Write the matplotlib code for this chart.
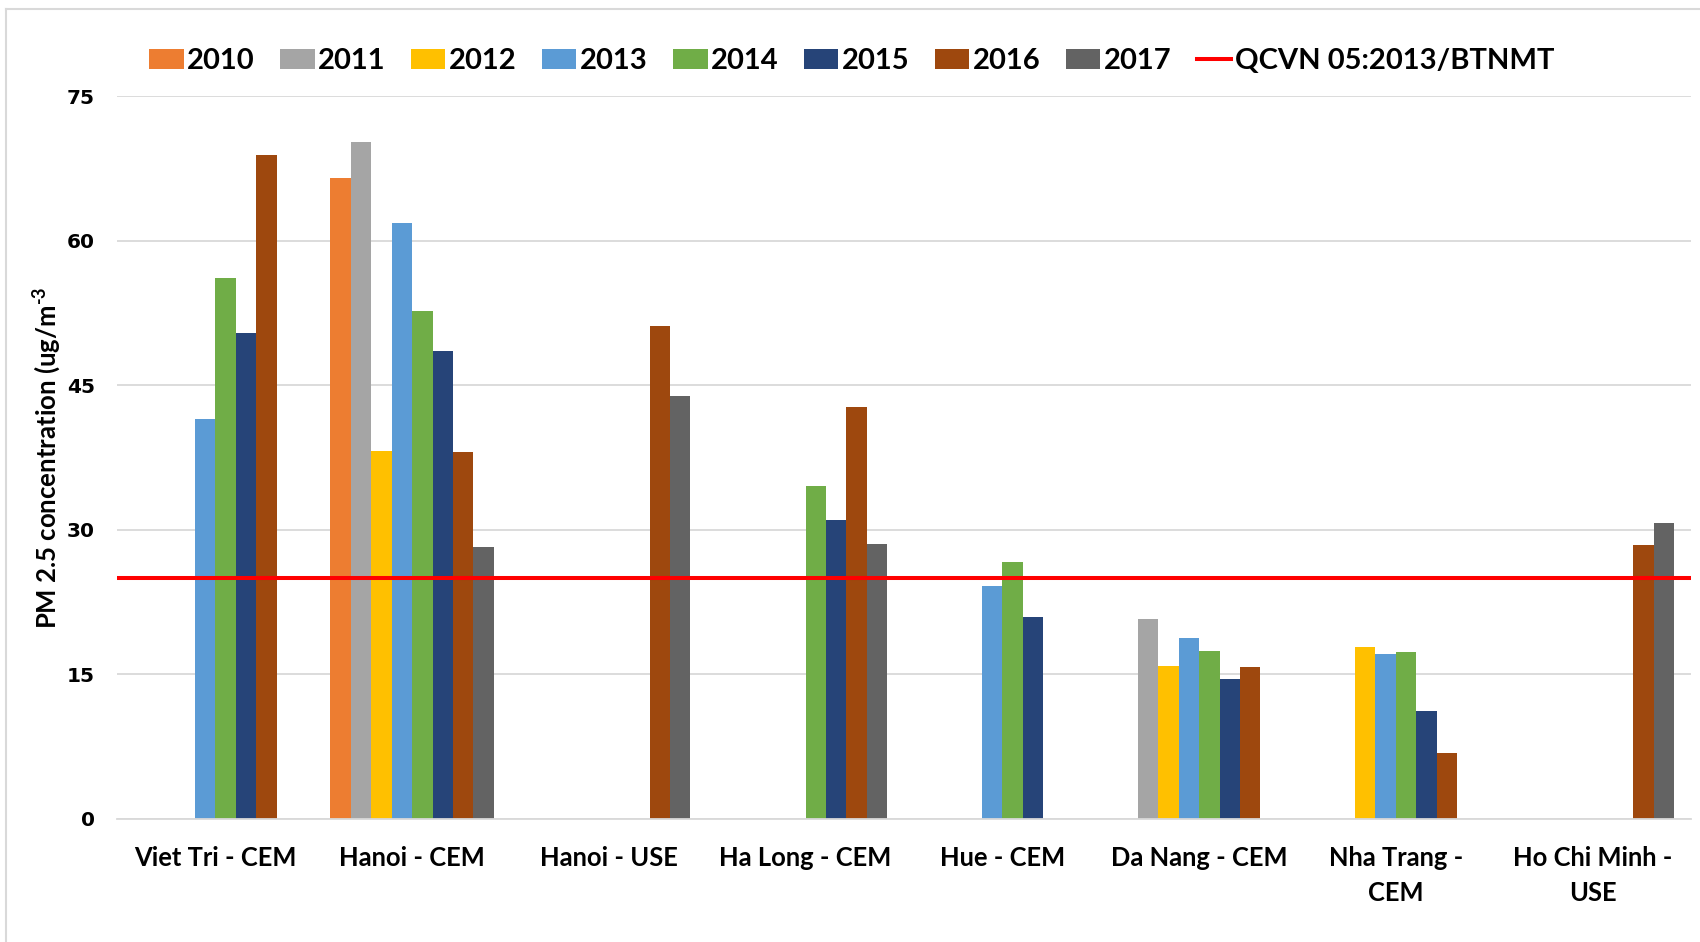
import numpy as np
import matplotlib
matplotlib.use("Agg")
import matplotlib.pyplot as plt
from matplotlib.lines import Line2D

# PM2.5 annual means by station (nan = no measurement that year)
stations = ["Viet Tri - CEM", "Hanoi - CEM", "Hanoi - USE", "Ha Long - CEM",
            "Hue - CEM", "Da Nang - CEM", "Nha Trang -\nCEM", "Ho Chi Minh -\nUSE"]
years = ["2010", "2011", "2012", "2013", "2014", "2015", "2016", "2017"]
nan = np.nan
pm_2010 = [nan, 66.5, nan, nan, nan, nan, nan, nan]
pm_2011 = [nan, 70.2, nan, nan, nan, 20.7, nan, nan]
pm_2012 = [nan, 38.2, nan, nan, nan, 15.8, 17.8, nan]
pm_2013 = [41.5, 61.8, nan, nan, 24.1, 18.7, 17.1, nan]
pm_2014 = [56.1, 52.7, nan, 34.5, 26.6, 17.4, 17.3, nan]
pm_2015 = [50.4, 48.5, nan, 31.0, 20.9, 14.5, 11.2, nan]
pm_2016 = [68.9, 38.1, 51.1, 42.7, nan, 15.7, 6.8, 28.4]
pm_2017 = [nan, 28.2, 43.9, 28.5, nan, nan, nan, 30.7]
series = [pm_2010, pm_2011, pm_2012, pm_2013, pm_2014, pm_2015, pm_2016, pm_2017]
limit = 25  # national standard QCVN 05:2013/BTNMT
limit_label = "QCVN 05:2013/BTNMT"

colors = ["#ED7D31", "#A5A5A5", "#FFC000", "#5B9BD5",
          "#70AD47", "#264478", "#9E480E", "#636363"]

FONT = ["Lato", "DejaVu Sans"]
plt.rcParams["mathtext.fontset"] = "custom"
plt.rcParams["mathtext.rm"] = "Lato:bold"
plt.rcParams["mathtext.it"] = "Lato:bold"
plt.rcParams["mathtext.bf"] = "Lato:bold"

fig = plt.figure(figsize=(17, 9.42), dpi=100)
ax = fig.add_axes([0.0688, 0.131, 0.9259, 0.767])

x = np.arange(len(stations))
w = 0.83 / len(series)
bars = []
for j, (vals, c) in enumerate(zip(series, colors)):
    b = ax.bar(x + (j - 3.5) * w, vals, width=w, color=c, linewidth=0, zorder=2)
    bars.append(b)

ax.axhline(limit, color="#FF0000", lw=2.9, zorder=3)

ax.set_xlim(-0.5, len(stations) - 0.5)
ax.set_ylim(0, 75)
ax.set_yticks([0, 15, 30, 45, 60, 75])
ax.grid(axis="y", color="#D9D9D9", lw=1.3, zorder=0)
ax.set_axisbelow(True)
for s in ["top", "right", "left"]:
    ax.spines[s].set_visible(False)
ax.spines["bottom"].set_color("#D9D9D9")
ax.spines["bottom"].set_linewidth(1.3)

ax.set_xticks(x)
ax.set_xticklabels(stations, family=FONT, weight="bold", fontsize=18.4,
                   linespacing=1.55)
for lab in ax.get_yticklabels():
    lab.set_family("DejaVu Sans")
    lab.set_weight("bold")
    lab.set_fontsize(14.5)
ax.tick_params(axis="x", length=0, pad=20)
ax.tick_params(axis="y", length=0, pad=16)

ax.set_ylabel(r"PM 2.5 concentration (ug/m$^{\text{-3}}$", family=FONT,
              weight="bold", fontsize=18.5)
ax.yaxis.set_label_coords(-0.034, 0.5)

handles = [b.patches[0] for b in bars]
handles.append(Line2D([], [], color="#FF0000", lw=2.9))
fig.legend(handles, years + [limit_label], loc="center",
           bbox_to_anchor=(0.501, 0.935), ncol=9, frameon=False,
           prop={"family": FONT, "weight": "bold", "size": 21},
           handlelength=1.18, handleheight=0.66, handletextpad=0.12,
           columnspacing=0.87)

# thin frame around the chart area
fig.add_artist(Line2D([0.0038, 0.0038], [0, 0.9904], color="#D9D9D9", lw=1.5,
                      transform=fig.transFigure))
fig.add_artist(Line2D([0.0038, 1.0], [0.9904, 0.9904], color="#D9D9D9", lw=1.5,
                      transform=fig.transFigure))

fig.savefig("out.png", dpi=100, facecolor="white")
